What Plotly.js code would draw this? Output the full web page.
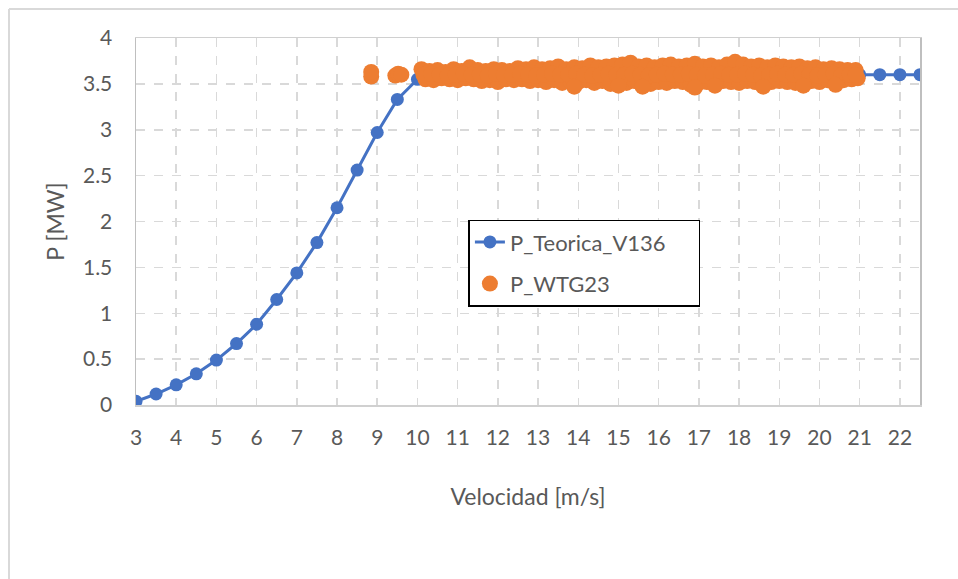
<!DOCTYPE html>
<html>
<head>
<meta charset="utf-8">
<script src="https://cdn.plot.ly/plotly-3.0.1.min.js"></script>
<style>html,body{margin:0;padding:0;background:#fff;}#chart{width:958px;height:579px;}</style>
</head>
<body>
<div id="chart"></div>
<script>
// Theoretical power curve V136
const teoricaV = [3,3.5,4,4.5,5,5.5,6,6.5,7,7.5,8,8.5,9,9.5,10,10.5,11,11.5,12,12.5,13,13.5,14,14.5,15,15.5,16,16.5,17,17.5,18,18.5,19,19.5,20,20.5,21,21.5,22,22.5];
const teoricaP = [0.04,0.12,0.22,0.34,0.49,0.67,0.88,1.15,1.44,1.77,2.15,2.56,2.97,3.33,3.55,3.6,3.6,3.6,3.6,3.6,3.6,3.6,3.6,3.6,3.6,3.6,3.6,3.6,3.6,3.6,3.6,3.6,3.6,3.6,3.6,3.6,3.6,3.6,3.6,3.6];

const wtgV = [8.85,8.85,9.45,9.52,9.6,
 10.1,10.3,10.5,10.7,10.9,11.1,11.3,11.5,11.7,11.9,12.1,12.3,12.5,12.7,12.9,13.1,13.3,13.5,13.7,13.9,14.1,14.3,14.5,14.7,14.9,15.1,15.3,15.5,15.7,15.9,16.1,16.3,16.5,16.7,16.9,17.1,17.3,17.5,17.7,17.9,18.1,18.3,18.5,18.7,18.9,19.1,19.3,19.5,19.7,19.9,20.1,20.3,20.5,20.7,20.9,
 10.2,10.4,10.6,10.8,11.0,11.2,11.4,11.6,11.8,12.0,12.2,12.4,12.6,12.8,13.0,13.2,13.4,13.6,13.8,14.0,14.2,14.4,14.6,14.8,15.0,15.2,15.4,15.6,15.8,16.0,16.2,16.4,16.6,16.8,17.0,17.2,17.4,17.6,17.8,18.0,18.2,18.4,18.6,18.8,19.0,19.2,19.4,19.6,19.8,20.0,20.2,20.4,20.6,20.8,20.95,
 10.15,10.35,10.55,10.75,10.95,11.15,11.35,11.55,11.75,11.95,12.15,12.35,12.55,12.75,12.95,13.15,13.35,13.55,13.75,13.95,14.15,14.35,14.55,14.75,14.95,15.15,15.35,15.55,15.75,15.95,16.15,16.35,16.55,16.75,16.95,17.15,17.35,17.55,17.75,17.95,18.15,18.35,18.55,18.75,18.95,19.15,19.35,19.55,19.75,19.95,20.15,20.35,20.55,20.75,20.9,
 13.9,15.0,15.6,16.9,17.4,18.6,19.6,20.4];
const wtgP = [3.58,3.63,3.59,3.61,3.6,
 3.66,3.64,3.65,3.63,3.66,3.64,3.68,3.65,3.64,3.66,3.65,3.64,3.67,3.66,3.68,3.66,3.67,3.69,3.66,3.68,3.67,3.70,3.68,3.69,3.70,3.71,3.73,3.69,3.70,3.68,3.70,3.71,3.69,3.70,3.72,3.69,3.70,3.68,3.71,3.74,3.71,3.69,3.70,3.68,3.70,3.69,3.68,3.69,3.67,3.68,3.66,3.67,3.66,3.65,3.65,
 3.55,3.54,3.56,3.55,3.54,3.56,3.55,3.53,3.54,3.52,3.55,3.54,3.55,3.53,3.54,3.52,3.54,3.51,3.53,3.52,3.54,3.51,3.53,3.50,3.52,3.51,3.53,3.52,3.50,3.52,3.51,3.53,3.52,3.49,3.51,3.52,3.51,3.53,3.52,3.51,3.53,3.52,3.50,3.52,3.53,3.52,3.51,3.50,3.53,3.52,3.54,3.53,3.54,3.55,3.56,
 3.6,3.61,3.6,3.59,3.6,3.61,3.6,3.6,3.59,3.61,3.6,3.6,3.61,3.6,3.59,3.6,3.61,3.6,3.6,3.61,3.6,3.59,3.6,3.61,3.6,3.6,3.61,3.6,3.59,3.6,3.61,3.6,3.6,3.61,3.6,3.59,3.6,3.61,3.6,3.6,3.61,3.6,3.59,3.6,3.61,3.6,3.6,3.61,3.6,3.59,3.6,3.61,3.6,3.6,3.6,
 3.47,3.48,3.47,3.46,3.48,3.47,3.48,3.49];

const xTicks = [3,4,5,6,7,8,9,10,11,12,13,14,15,16,17,18,19,20,21,22];
const yTicks = [0,0.5,1,1.5,2,2.5,3,3.5,4];

const FONT = 'Lato, "Open Sans", sans-serif';
const TXT = '#595959';

const traces = [
  {x: teoricaV, y: teoricaP, type: 'scatter', mode: 'lines+markers', name: 'P_Teorica_V136\u00a0\u00a0\u00a0\u00a0\u00a0',
   line: {color: '#4472C4', width: 3}, marker: {color: '#4472C4', size: 13},
   legendgroup: 'a'},
  {x: wtgV, y: wtgP, type: 'scatter', mode: 'markers', name: 'P_WTG23',
   marker: {color: '#ED7D31', size: 16}, legendgroup: 'b'}
];

const layout = {
  width: 958, height: 579,
  margin: {l: 136, r: 38, t: 38, b: 174},
  paper_bgcolor: '#ffffff', plot_bgcolor: '#ffffff',
  font: {family: FONT, color: TXT, size: 21},
  showlegend: true,
  legend: {x: 0.424, y: 0.505, xanchor: 'left', yanchor: 'top',
    bgcolor: '#ffffff', bordercolor: '#000000', borderwidth: 1.5,
    font: {family: FONT, size: 22, color: TXT}, tracegroupgap: 10,
    traceorder: 'grouped'},
  xaxis: {range: [3, 22.5], tickvals: xTicks, ticktext: xTicks.map(String),
    showgrid: true, gridcolor: '#d9d9d9', griddash: 'dash', gridwidth: 1.5,
    showline: true, linecolor: '#d0d0d0', linewidth: 1.5, mirror: true,
    zeroline: false, ticks: '', ticklabelstandoff: 13,
    tickfont: {family: FONT, size: 21, color: TXT},
    title: {text: 'Velocidad [m/s]', font: {family: FONT, size: 23, color: TXT}, standoff: 41}},
  yaxis: {range: [0, 4], tickvals: yTicks, ticktext: yTicks.map(String),
    showgrid: true, gridcolor: '#d9d9d9', griddash: 'dash', gridwidth: 1.5,
    showline: true, linecolor: '#bfbfbf', linewidth: 1.5, mirror: true,
    zeroline: false, ticks: '', ticklabelstandoff: 18,
    tickfont: {family: FONT, size: 21, color: TXT},
    title: {text: 'P [MW]', font: {family: FONT, size: 23, color: TXT}, standoff: 12}},
  shapes: [
    {type: 'line', xref: 'paper', yref: 'paper', x0: -0.162, x1: -0.162, y0: 1.079, y1: -0.5,
     line: {color: '#d9d9d9', width: 2}},
    {type: 'line', xref: 'paper', yref: 'paper', x0: -0.162, x1: 1.1, y0: 1.079, y1: 1.079,
     line: {color: '#d9d9d9', width: 2}}
  ]
};

Plotly.newPlot('chart', traces, layout, {displayModeBar: false, staticPlot: true});
</script>
</body>
</html>
